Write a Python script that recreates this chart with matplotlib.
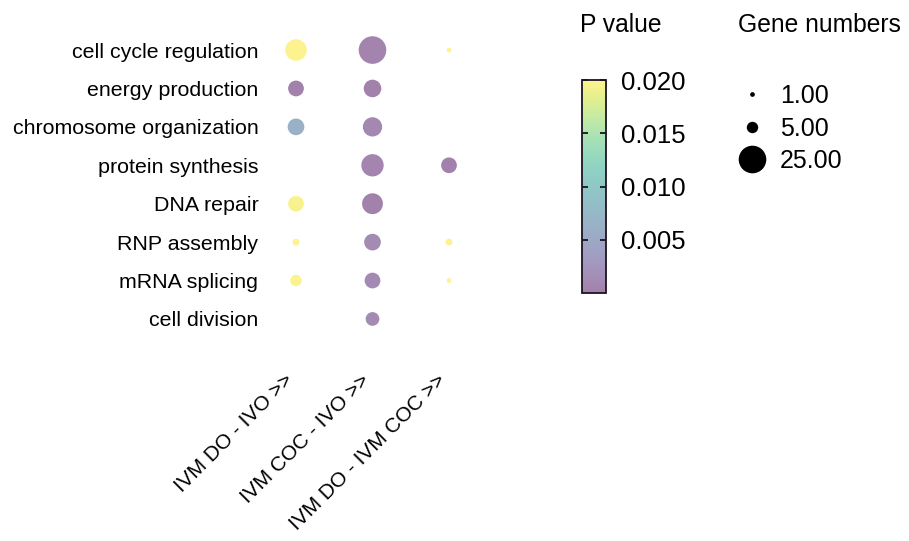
import numpy as np
import matplotlib
matplotlib.use("Agg")
import matplotlib.pyplot as plt
import matplotlib.transforms as mtransforms
from matplotlib.colors import ListedColormap, Normalize
from matplotlib.cm import ScalarMappable
from matplotlib.lines import Line2D

plt.rcParams["font.family"] = ["Liberation Sans", "DejaVu Sans"]

# ---- data ----
terms = ["cell cycle regulation", "energy production", "chromosome organization",
         "protein synthesis", "DNA repair", "RNP assembly", "mRNA splicing",
         "cell division"]
comparisons = ["IVM DO - IVO >>", "IVM COC - IVO >>", "IVM DO - IVM COC >>"]

# gene numbers per term (nan = term not found for that comparison)
genes_do_ivo = [16, 9, 10, np.nan, 9, 2, 5, np.nan]
genes_coc_ivo = [25, 11, 13, 17, 15, 10, 9, 7]
genes_do_coc = [1, np.nan, np.nan, 9, np.nan, 2, 1, np.nan]

# p values per term
pval_do_ivo = [0.0198, 0.0002, 0.0062, np.nan, 0.0196, 0.0199, 0.0197, np.nan]
pval_coc_ivo = [0.0005, 0.0001, 0.0010, 0.0006, 0.0001, 0.0012, 0.0011, 0.0012]
pval_do_coc = [0.0199, np.nan, np.nan, 0.0003, np.nan, 0.0198, 0.0199, np.nan]

legend_sizes = [1, 5, 25]
legend_labels = ["1.00", "5.00", "25.00"]
cbar_ticks = [0.005, 0.010, 0.015, 0.020]

DPI = 100
PX2PT = 72.0 / DPI


def dot_diam_pt(n):
    # dot diameter grows a bit faster than sqrt of the gene count
    return 4.7 * np.power(n, 0.55) * PX2PT


# viridis washed out by half with white (alpha 0.5 look)
base = plt.get_cmap("viridis")(np.linspace(0, 1, 256))
base[:, :3] = base[:, :3] * 0.5 + 0.5
pale_viridis = ListedColormap(base)
norm = Normalize(vmin=0.0, vmax=0.020)

fig = plt.figure(figsize=(9.09, 5.41), dpi=DPI)
W, H = 909.0, 541.0
ax = fig.add_axes([265.4 / W, 1 - 342 / H, (479.6 - 265.4) / W, (342 - 27) / H])

genes = [genes_do_ivo, genes_coc_ivo, genes_do_coc]
pvals = [pval_do_ivo, pval_coc_ivo, pval_do_coc]
for j in range(len(comparisons)):
    g = np.array(genes[j], dtype=float)
    p = np.array(pvals[j], dtype=float)
    ok = ~np.isnan(g)
    y = np.arange(len(terms))[ok]
    x = np.full(y.shape, j + 1)
    ax.scatter(x, y, s=dot_diam_pt(g[ok]) ** 2, c=p[ok], cmap=pale_viridis,
               norm=norm, linewidths=0, zorder=3)

ax.set_xlim(0.6, 3.4)
ax.set_ylim(len(terms) - 0.4, -0.6)
ax.set_yticks(np.arange(len(terms)))
ax.set_yticklabels(terms, fontsize=15.4)
ax.set_xticks([1, 2, 3])
ax.set_xticklabels(comparisons, fontsize=15, rotation=45, ha="right", va="top",
                   rotation_mode="anchor")
ax.tick_params(axis="y", length=0, pad=5)
ax.tick_params(axis="x", length=0, pad=22)
shift = mtransforms.ScaledTranslation(-13 / DPI, 2 / DPI, fig.dpi_scale_trans)
for lab in ax.get_xticklabels():
    lab.set_transform(lab.get_transform() + shift)
for s in ax.spines.values():
    s.set_visible(False)

# colour bar
cax = fig.add_axes([582 / W, 1 - 293 / H, 24 / W, 213 / H])
cb = fig.colorbar(ScalarMappable(norm=norm, cmap=pale_viridis), cax=cax)
cb.set_ticks(cbar_ticks)
cb.set_ticklabels(["%.3f" % t for t in cbar_ticks])
cb.outline.set_edgecolor("#1c1420")
cb.outline.set_linewidth(1.3)
cax.tick_params(direction="in", length=4, width=1.3, left=True, right=True,
                color="#1c1420", labelsize=18.5, pad=11)
fig.text(580 / W, 1 - 31.5 / H, "P value", fontsize=17.7, va="baseline")

# size legend
handles = [Line2D([], [], marker="o", linestyle="", color="black",
                  markeredgewidth=0, markersize=dot_diam_pt(n)) for n in legend_sizes]
leg = fig.legend(handles, legend_labels, loc="upper left",
                 bbox_to_anchor=(739.5 / W, 1 - 84 / H), frameon=False,
                 fontsize=18, borderpad=0, borderaxespad=0, handlelength=1.0,
                 handletextpad=0.62, labelspacing=0.34)
fig.text(738 / W, 1 - 31.5 / H, "Gene numbers", fontsize=17.7, va="baseline")

fig.savefig("out.png", dpi=DPI, facecolor="white")
